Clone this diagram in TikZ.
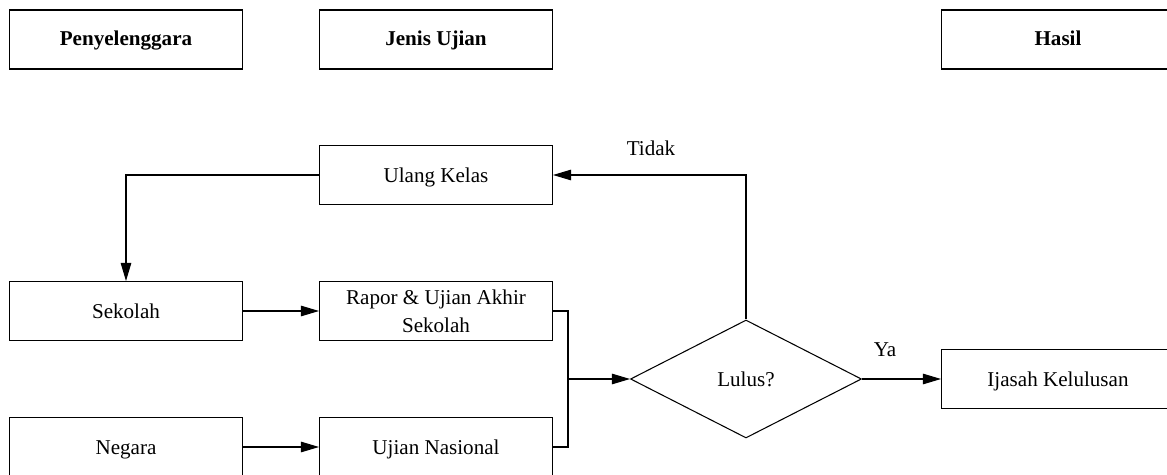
\documentclass[tikz,border=0pt]{standalone}
\usepackage{fontspec}
\setmainfont{Liberation Serif}
\usepackage{tikz}
\usetikzlibrary{arrows.meta,shapes.geometric,positioning}

\tikzset{
  kotakdasar/.style={draw,rectangle,minimum width=4.66cm,minimum height=1.18cm,
    align=center,inner sep=2pt},
  kotak/.style={kotakdasar,text height=10pt,text depth=0.9pt},
  judul/.style={kotakdasar,font=\fontsize{12}{14}\selectfont\bfseries,
    text height=8pt,text depth=1.4pt},
  keputusan/.style={draw,diamond,aspect=1.96,minimum width=4.62cm,
    minimum height=2.36cm,inner sep=0pt,text height=10pt,text depth=0.9pt},
  panah/.style={-{Triangle[length=3.6mm,width=2.1mm]}},
  label/.style={inner sep=0pt}
}

\begin{document}
\begin{tikzpicture}[line width=0.6pt,font=\fontsize{12}{14}\selectfont]
\clip (0,0) rectangle (23.34,-9.5);
% header
\node[judul] (penyelenggara) at (2.52,-0.79) {Penyelenggara};
\node[judul] (jenis) at (8.72,-0.79) {Jenis Ujian};
\node[judul] (hasil) at (21.16,-0.79) {Hasil};
% alur
\node[kotak] (ulang) at (8.72,-3.5) {Ulang Kelas};
\node[kotak] (sekolah) at (2.52,-6.22) {Sekolah};
\node[kotakdasar,font=\fontsize{12}{16}\selectfont] (rapor) at (8.72,-6.22)
  {Rapor \& Ujian Akhir\\Sekolah};
\node[kotak] (negara) at (2.52,-8.94) {Negara};
\node[kotak] (un) at (8.72,-8.94) {Ujian Nasional};
\node[keputusan] (lulus) at (14.92,-7.58) {Lulus?};
\node[kotak] (ijasah) at (21.16,-7.58) {Ijasah Kelulusan};
\coordinate (gabung) at (11.36,-7.58);

\draw[panah] (ulang.west) -| (sekolah.north);
\draw[panah] (sekolah) -- (rapor);
\draw[panah] (negara) -- (un);
\draw (rapor.east) -| (gabung) |- (un.east);
\draw[panah] (gabung) -- (lulus.west);
\draw[panah] (lulus.north) |- (ulang.east);
\draw[panah] (lulus.east) -- (ijasah.west);
\node[label] (tidak) at (13.02,-2.96) {Tidak};
\node[label] (ya) at (17.7,-7.0) {Ya};
\end{tikzpicture}
\end{document}
